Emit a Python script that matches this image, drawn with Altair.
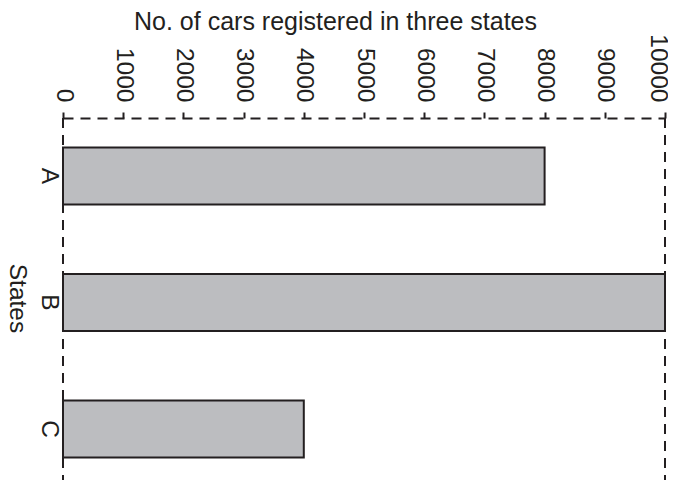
import altair as alt
import pandas as pd

states = ["A", "B", "C"]
cars = [8000, 10000, 4000]
x_ticks = [0, 1000, 2000, 3000, 4000, 5000, 6000, 7000, 8000, 9000, 10000]
title_text = "No. of cars registered in three states"
y_title = "States"

df = pd.DataFrame({"state": states, "cars": cars})

W = 602
H = 362
FONT = "Liberation Sans"
FS = 24.5
DARK = "#231f20"
DASH = [10, 7]

bars = alt.Chart(df).mark_bar(
    fill="#bcbdc0", stroke=DARK, strokeWidth=2
).encode(
    x=alt.X(
        "cars:Q",
        scale=alt.Scale(domain=[0, 10000], nice=False, zero=True),
        axis=alt.Axis(
            orient="top",
            values=x_ticks,
            format="d",
            grid=False,
            domain=True,
            domainDash=DASH,
            domainColor=DARK,
            domainWidth=2,
            ticks=True,
            tickSize=6,
            tickWidth=2,
            tickColor=DARK,
            labelAngle=90,
            labelAlign="right",
            labelBaseline="middle",
            labelPadding=10,
            labelOffset=alt.condition("datum.value == 10000", alt.value(-8), alt.value(0)),
            labelFont=FONT,
            labelFontSize=FS,
            labelColor=DARK,
            labelOverlap=False,
            labelFlush=False,
            title=title_text,
            titleFont=FONT,
            titleFontSize=25,
            titleFontWeight="normal",
            titleColor=DARK,
            titleAngle=0,
            titleAlign="center",
            titleBaseline="alphabetic",
            titleX=272,
            titleY=-89,
        ),
    ),
    y=alt.Y(
        "state:N",
        sort=states,
        scale=alt.Scale(paddingInner=0.549, paddingOuter=0.2053, align=0.568),
        axis=alt.Axis(
            orient="left",
            domain=False,
            ticks=False,
            grid=False,
            labelAngle=90,
            labelAlign="center",
            labelBaseline="top",
            labelPadding=3,
            labelFont=FONT,
            labelFontSize=FS,
            labelColor=DARK,
            title=y_title,
            titleFont=FONT,
            titleFontSize=FS,
            titleFontWeight="normal",
            titleColor=DARK,
            titleAngle=90,
            titleAlign="center",
            titleBaseline="top",
            titleX=-35,
            titleY=180,
        ),
    ),
)

left_rule = alt.Chart(df).mark_rule(
    color=DARK, strokeWidth=2, strokeDash=DASH
).encode(x=alt.value(0), y=alt.value(0), y2=alt.value(H))

right_rule = alt.Chart(df).mark_rule(
    color=DARK, strokeWidth=2, strokeDash=DASH
).encode(x=alt.value(W), y=alt.value(0), y2=alt.value(H))

chart = alt.layer(left_rule, right_rule, bars).properties(
    width=W,
    height=H,
    autosize=alt.AutoSizeParams(type="none"),
    padding={"left": 55, "top": 110, "right": 3, "bottom": 0},
).configure_view(stroke=None)

chart.save("out.html", embed_options={"renderer": "svg", "actions": False})
